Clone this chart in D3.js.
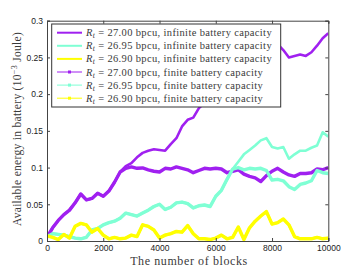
<!DOCTYPE html>
<html>
<head>
<meta charset="utf-8">
<script src="https://cdn.jsdelivr.net/npm/d3@7"></script>
<style>
  body { margin: 0; background: #fff; }
  svg { display: block; }
  .tick text { font-family: "Liberation Sans", Arial, sans-serif; font-size: 8.5px; fill: #222; }
  .serif { font-family: "Liberation Serif", "Times New Roman", serif; fill: #3a3a3a; }
</style>
</head>
<body>
<svg id="chart" width="362" height="272"></svg>
<script>
// blocks sampled every 200
const blocks = d3.range(0, 10001, 200);

const purpleInf = [0.005, 0.018, 0.028, 0.036, 0.042, 0.052, 0.064, 0.056, 0.058, 0.065,
  0.061, 0.068, 0.080, 0.094, 0.102, 0.106, 0.114, 0.120, 0.123, 0.125,
  0.124, 0.123, 0.132, 0.140, 0.156, 0.165, 0.168, 0.181, 0.188, 0.195,
  0.200, 0.206, 0.212, 0.218, 0.225, 0.232, 0.238, 0.245, 0.252, 0.258,
  0.263, 0.268, 0.260, 0.250, 0.252, 0.254, 0.252, 0.257, 0.266, 0.276, 0.283];

const purpleFin = [0.005, 0.018, 0.028, 0.036, 0.042, 0.052, 0.064, 0.056, 0.058, 0.065,
  0.061, 0.068, 0.080, 0.094, 0.099, 0.101, 0.099, 0.0995, 0.097, 0.095,
  0.094, 0.099, 0.098, 0.101, 0.099, 0.097, 0.093, 0.096, 0.099, 0.098,
  0.099, 0.098, 0.093, 0.095, 0.097, 0.091, 0.088, 0.086, 0.081, 0.089,
  0.095, 0.099, 0.094, 0.090, 0.088, 0.092, 0.092, 0.093, 0.098, 0.097, 0.100];

const cyanInf = [0.006, 0.010, 0.009, 0.008, 0.006, 0.004, 0.003, 0.005, 0.015, 0.017,
  0.022, 0.025, 0.027, 0.031, 0.038, 0.036, 0.034, 0.038, 0.042, 0.047,
  0.050, 0.043, 0.046, 0.052, 0.053, 0.051, 0.045, 0.048, 0.049, 0.047,
  0.061, 0.069, 0.084, 0.098, 0.108, 0.118, 0.124, 0.130, 0.137, 0.140,
  0.128, 0.126, 0.128, 0.112, 0.118, 0.123, 0.123, 0.127, 0.130, 0.148, 0.142];

const cyanFin = [0.006, 0.010, 0.009, 0.008, 0.006, 0.004, 0.003, 0.005, 0.015, 0.017,
  0.022, 0.025, 0.027, 0.031, 0.038, 0.036, 0.034, 0.038, 0.042, 0.047,
  0.050, 0.043, 0.046, 0.052, 0.053, 0.051, 0.045, 0.048, 0.049, 0.047,
  0.061, 0.069, 0.084, 0.098, 0.100, 0.097, 0.099, 0.098, 0.099, 0.096,
  0.083, 0.084, 0.082, 0.074, 0.070, 0.077, 0.079, 0.082, 0.096, 0.093, 0.092];

const yellowInf = [0.007, 0.005, 0.002, 0.009, 0.004, 0.020, 0.024, 0.022, 0.012, 0.017,
  0.008, 0.003, 0.005, 0.003, 0.004, 0.008, 0.006, 0.022, 0.020, 0.015,
  0.004, 0.008, 0.010, 0.013, 0.012, 0.021, 0.010, 0.003, 0.003, 0.002,
  0.004, 0.008, 0.003, 0.005, 0.019, 0.002, 0.018, 0.027, 0.034, 0.040,
  0.023, 0.025, 0.030, 0.022, 0.006, 0.003, 0.003, 0.003, 0.005, 0.003, 0.004];

const yellowFin = yellowInf.slice();

const rates = ["27.00", "26.95", "26.90", "27.00", "26.95", "26.90"];
const kinds = ["infinite", "infinite", "infinite", "finite", "finite", "finite"];
const colors = ["#a020f0", "#7fffd4", "#ffff00", "#a020f0", "#7fffd4", "#ffff00"];

const xTicks = [0, 2000, 4000, 6000, 8000, 10000];
const yTicks = [0, 0.05, 0.1, 0.15, 0.2, 0.25, 0.3];

const seriesValues = [purpleInf, cyanInf, yellowInf, purpleFin, cyanFin, yellowFin];

const svg = d3.select("#chart");
const x = d3.scaleLinear().domain([0, 10000]).range([47, 328.3]);
const y = d3.scaleLinear().domain([0, 0.3]).range([241, 20.7]);

svg.append("defs").append("clipPath").attr("id", "clip")
  .append("rect").attr("x", 47).attr("y", 20.7).attr("width", 281.3).attr("height", 220.3);

const line = d3.line().x(d => x(d[0])).y(d => y(d[1]));

const plot = svg.append("g").attr("clip-path", "url(#clip)");
seriesValues.forEach((vals, i) => {
  const pts = blocks.map((b, j) => [b, vals[j]]);
  plot.append("path")
    .datum(pts)
    .attr("fill", "none")
    .attr("stroke", colors[i])
    .attr("stroke-width", kinds[i] === "infinite" ? 2.6 : 3.4)
    .attr("stroke-linejoin", "round")
    .attr("d", line);
});

// axes, ticks inward
const axisColor = "#444";
const gx = svg.append("g").attr("transform", "translate(0,241)")
  .call(d3.axisBottom(x).tickValues(xTicks).tickSize(-3).tickPadding(4).tickFormat(d3.format("d")));
const gxTop = svg.append("g").attr("transform", "translate(0,20.7)")
  .call(d3.axisTop(x).tickValues(xTicks).tickSize(-3).tickFormat(""));
const gy = svg.append("g").attr("transform", "translate(47,0)")
  .call(d3.axisLeft(y).tickValues(yTicks).tickSize(-3).tickPadding(4).tickFormat(d => d === 0 ? "0" : String(d)));
const gyRight = svg.append("g").attr("transform", "translate(328.3,0)")
  .call(d3.axisRight(y).tickValues(yTicks).tickSize(-3).tickFormat(""));
[gx, gxTop, gy, gyRight].forEach(g => {
  g.selectAll("path, line").attr("stroke", axisColor);
  g.select(".domain").attr("stroke-width", 1);
});

// axis titles
svg.append("text").attr("class", "serif")
  .attr("x", 189).attr("y", 264.5)
  .attr("text-anchor", "middle").attr("font-size", 12).attr("letter-spacing", 0.6)
  .text("The number of blocks");

const yl = svg.append("text").attr("class", "serif")
  .attr("transform", "translate(21,129) rotate(-90)")
  .attr("text-anchor", "middle").attr("font-size", 11.5).attr("letter-spacing", 0.3);
yl.append("tspan").text("Available energy in battery (10");
yl.append("tspan").attr("dy", -4).attr("font-size", 8).text("−3");
yl.append("tspan").attr("dy", 4).text(" Joule)");

// legend
const lg = svg.append("g");
lg.append("rect").attr("x", 51.7).attr("y", 24).attr("width", 229).attr("height", 83)
  .attr("fill", "#fff").attr("stroke", "#333").attr("stroke-width", 1);
rates.forEach((r, i) => {
  const ly = 32.7 + i * 13.1;
  lg.append("line").attr("x1", 57).attr("x2", 82).attr("y1", ly).attr("y2", ly)
    .attr("stroke", colors[i]).attr("stroke-width", kinds[i] === "infinite" ? 2 : 1);
  if (kinds[i] === "finite") {
    lg.append("rect").attr("x", 68).attr("y", ly - 1.5).attr("width", 3).attr("height", 3)
      .attr("fill", colors[i]);
  }
  const t = lg.append("text").attr("class", "serif").attr("x", 86).attr("y", ly + 3.5)
    .attr("font-size", 10.5).attr("letter-spacing", 0.35);
  t.append("tspan").attr("font-style", "italic").text("R");
  t.append("tspan").attr("font-style", "italic").attr("font-size", 7.5).attr("dy", 2).text("t");
  t.append("tspan").attr("dy", -2).text(" = " + r + " bpcu, " + kinds[i] + " battery capacity");
});
</script>
</body>
</html>
